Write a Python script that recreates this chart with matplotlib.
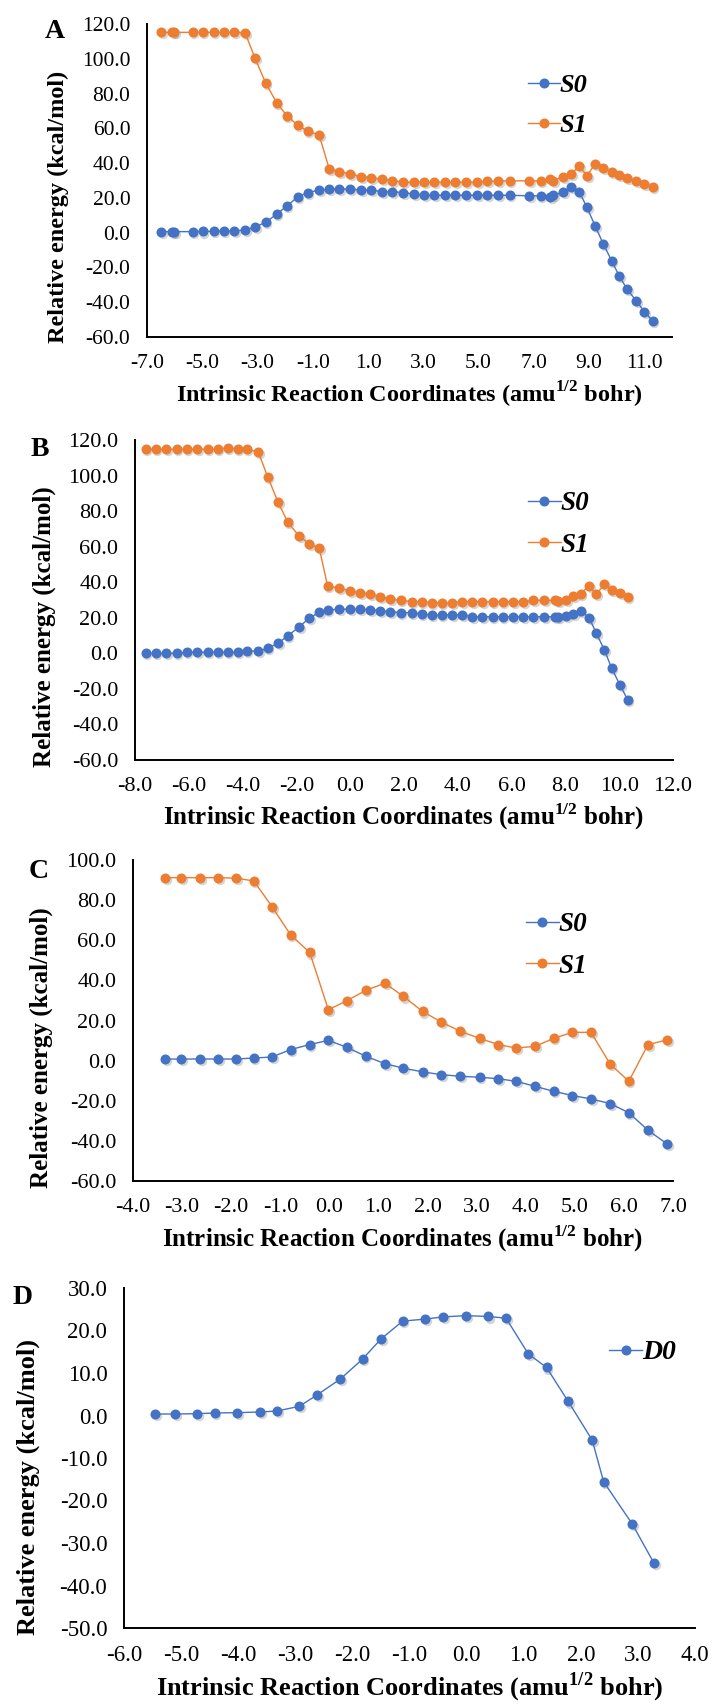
import matplotlib
matplotlib.use('Agg')
import matplotlib.pyplot as plt
import matplotlib.transforms as mtransforms
from matplotlib.ticker import FormatStrFormatter, MultipleLocator

plt.rcParams['font.family'] = ['Liberation Serif', 'DejaVu Serif']
plt.rcParams['axes.unicode_minus'] = False
plt.rcParams['mathtext.fontset'] = 'custom'
plt.rcParams['mathtext.bf'] = 'Liberation Serif:bold'
plt.rcParams['mathtext.rm'] = 'Liberation Serif:bold'

# ---------------- data ----------------
xA = [-6.49, -6.10, -6.02, -5.35, -4.98, -4.59, -4.22, -3.85, -3.45, -3.09, -2.70, -2.31, -1.94,
      -1.55, -1.19, -0.77, -0.40, -0.04, 0.35, 0.75, 1.11, 1.50, 1.88, 2.28, 2.67, 3.04, 3.40,
      3.79, 4.16, 4.55, 4.94, 5.32, 5.72, 6.12, 6.84, 7.25, 7.59, 7.71, 8.05, 8.35, 8.64, 8.92,
      9.22, 9.52, 9.82, 10.09, 10.38, 10.70, 11.00, 11.30]
A_S0 = [0.6, 0.6, 0.6, 0.6, 0.7, 0.8, 1.0, 1.0, 1.6, 3.3, 6.0, 10.6, 15.3, 20.5, 23.0, 24.5,
        25.1, 25.1, 25.1, 24.5, 24.5, 23.6, 23.6, 23.0, 22.2, 21.5, 21.5, 21.5, 21.5, 21.5, 21.5,
        21.5, 21.5, 21.5, 21.2, 21.2, 20.5, 21.7, 23.2, 26.1, 23.6, 14.6, 3.8, -6.7, -16.3, -24.9,
        -32.6, -39.1, -45.4, -50.8]
A_S1 = [115.2, 115.2, 115.2, 115.2, 115.2, 115.2, 115.2, 115.2, 115.0, 100.3, 85.9, 74.8, 67.3,
        61.9, 58.4, 56.2, 36.4, 35.1, 33.6, 32.2, 31.6, 30.7, 29.9, 29.0, 29.0, 29.0, 29.0, 29.0,
        29.0, 29.0, 29.0, 29.5, 29.7, 29.8, 29.8, 29.8, 30.9, 29.9, 32.2, 33.7, 38.3, 32.8, 39.5,
        37.0, 34.7, 33.2, 31.3, 29.9, 27.8, 26.1]

xB = [-7.60, -7.23, -6.85, -6.45, -6.08, -5.68, -5.30, -4.93, -4.55, -4.18, -3.85, -3.42, -3.07,
      -2.68, -2.32, -1.90, -1.53, -1.15, -0.84, -0.41, -0.01, 0.36, 0.74, 1.11, 1.48, 1.88, 2.29,
      2.66, 3.03, 3.40, 3.80, 4.17, 4.54, 4.91, 5.30, 5.67, 6.06, 6.44, 6.81, 7.20, 7.61, 7.74,
      8.02, 8.29, 8.57, 8.88, 9.14, 9.45, 9.72, 10.03, 10.32]
B_S0 = [0.0, 0.0, 0.0, 0.0, 0.6, 0.6, 0.6, 0.6, 0.6, 0.6, 1.3, 1.3, 2.8, 5.6, 9.9, 14.8, 19.7,
        23.1, 24.4, 24.8, 24.8, 24.8, 24.4, 24.0, 23.4, 22.9, 22.9, 22.1, 21.6, 21.6, 21.6, 21.6,
        20.6, 20.6, 20.6, 20.6, 20.6, 20.6, 20.6, 20.6, 20.6, 20.3, 21.0, 22.1, 24.0, 20.1, 11.6,
        1.9, -8.4, -17.8, -26.3]
B_S1 = [114.8, 114.8, 114.8, 114.8, 114.8, 114.8, 114.8, 114.8, 115.7, 114.8, 114.8, 113.4, 99.4,
        85.0, 73.7, 66.0, 61.7, 59.1, 37.9, 36.6, 35.1, 33.8, 33.2, 31.9, 30.4, 29.8, 29.1, 29.1,
        28.5, 28.5, 28.5, 29.1, 29.1, 29.1, 29.1, 29.1, 29.1, 29.1, 29.8, 29.8, 29.8, 29.5, 29.8,
        32.2, 33.6, 37.9, 33.2, 38.8, 35.4, 33.8, 31.7]

xC = [-3.35, -3.02, -2.63, -2.26, -1.90, -1.54, -1.17, -0.79, -0.40, -0.02, 0.36, 0.74, 1.13,
      1.51, 1.90, 2.28, 2.67, 3.06, 3.44, 3.80, 4.19, 4.57, 4.95, 5.33, 5.72, 6.10, 6.49, 6.88]
C_S0 = [0.8, 0.8, 0.8, 0.8, 0.8, 1.3, 1.8, 5.5, 8.0, 10.1, 6.6, 2.2, -1.5, -3.8, -5.6, -7.0,
        -7.8, -8.3, -9.0, -10.3, -12.8, -15.3, -17.4, -19.1, -21.4, -26.0, -34.7, -41.5]
C_S1 = [91.2, 91.2, 91.2, 91.2, 90.9, 89.6, 76.8, 62.7, 53.9, 25.4, 29.9, 35.0, 38.6, 32.0, 24.5,
        19.2, 14.6, 11.1, 8.0, 6.3, 7.1, 11.1, 14.1, 14.1, -1.7, -10.3, 8.0, 10.3]

xD = [-5.46, -5.10, -4.72, -4.41, -4.02, -3.62, -3.32, -2.93, -2.62, -2.21, -1.82, -1.50, -1.12,
      -0.72, -0.41, -0.01, 0.38, 0.69, 1.08, 1.40, 1.78, 2.20, 2.40, 2.90, 3.28]
D_D0 = [0.35, 0.35, 0.43, 0.59, 0.67, 0.82, 1.06, 2.16, 4.82, 8.59, 13.3, 18.0, 22.2, 22.7, 23.2,
        23.5, 23.3, 22.9, 14.5, 11.3, 3.3, -5.8, -15.6, -25.5, -34.7]

panel_letters = ['A', 'B', 'C', 'D']
xlabel_text = 'Intrinsic Reaction Coordinates (amu$^{\\mathbf{1/2}}$ bohr)'
ylabel_text = 'Relative energy (kcal/mol)'

BLUE = '#4472C4'
ORANGE = '#ED7D31'

W, H = 713, 1704
fig = plt.figure(figsize=(W / 100, H / 100), dpi=100)


def make_axes(l, r, t, b):
    return fig.add_axes([l / W, 1 - b / H, (r - l) / W, (b - t) / H])


def series(ax, x, y, color, label):
    sh = ax.transData + mtransforms.ScaledTranslation(1.2 / 72, -1.5 / 72, fig.dpi_scale_trans)
    ax.plot(x, y, 'o', ms=6.8, color='0.25', alpha=0.22, mec='none', transform=sh, zorder=2,
            clip_on=False)
    ax.plot(x, y, '-o', color=color, lw=1.0, ms=6.2, mec=color, label=label, zorder=3,
            clip_on=False)


def style(ax, xlim, xstep, xfirst, ylim, ystep, tsize, lsize, ylab_xy, xlab_y):
    ax.set_xlim(*xlim)
    ax.set_ylim(*ylim)
    ax.xaxis.set_major_locator(MultipleLocator(xstep, offset=xfirst % xstep))
    ax.yaxis.set_major_locator(MultipleLocator(ystep))
    ax.xaxis.set_major_formatter(FormatStrFormatter('%.1f'))
    ax.yaxis.set_major_formatter(FormatStrFormatter('%.1f'))
    for s in ['top', 'right']:
        ax.spines[s].set_visible(False)
    for s in ['left', 'bottom']:
        ax.spines[s].set_linewidth(1.4)
        ax.spines[s].set_color('black')
    ax.tick_params(axis='both', length=0, labelsize=tsize, colors='black')
    ax.tick_params(axis='x', pad=12)
    ax.tick_params(axis='y', pad=12)
    ax.set_xlabel(xlabel_text, fontsize=lsize, fontweight='bold')
    ax.set_ylabel(ylabel_text, fontsize=lsize, fontweight='bold')
    ax.xaxis.set_label_coords(0.5, xlab_y)
    ax.xaxis.label.set_va('center')
    ax.yaxis.set_label_coords(*ylab_xy)
    ax.yaxis.label.set_va('center')


def legend(ax, x_px, y_px, fs):
    ax.legend(loc='upper left', bbox_to_anchor=(x_px / W, 1 - y_px / H),
              bbox_transform=fig.transFigure, frameon=False, borderpad=0,
              borderaxespad=0, handlelength=1.2, handletextpad=0.0, labelspacing=0.62,
              prop={'family': 'Liberation Serif', 'weight': 'bold', 'style': 'italic',
                    'size': fs})


# Panel A
axA = make_axes(147, 672, 24, 337)
series(axA, xA, A_S0, BLUE, 'S0')
series(axA, xA, A_S1, ORANGE, 'S1')
style(axA, (-7, 12), 2, -7, (-60, 120), 20, 15.5, 17.5, (-0.168, 0.415), -0.185)
legend(axA, 528, 74, 19)

# Panel B
axB = make_axes(135, 673, 440, 760)
series(axB, xB, B_S0, BLUE, 'S0')
series(axB, xB, B_S1, ORANGE, 'S1')
style(axB, (-8, 12), 2, -8, (-60, 120), 20, 16, 18, (-0.169, 0.416), -0.178)
legend(axB, 528, 491, 19.5)

# Panel C
axC = make_axes(133, 673, 860, 1181)
series(axC, xC, C_S0, BLUE, 'S0')
series(axC, xC, C_S1, ORANGE, 'S1')
style(axC, (-4, 7), 1, -4, (-60, 100), 20, 16, 18, (-0.170, 0.414), -0.18)
legend(axC, 526, 912, 19.5)

# Panel D
axD = make_axes(124, 695, 1288, 1628)
series(axD, xD, D_D0, BLUE, 'D0')
style(axD, (-6, 4), 1, -6, (-50, 30), 10, 16.5, 19, (-0.167, 0.415), -0.173)
legend(axD, 609, 1340, 20)

# Panel letters
for letter, (px, py) in zip(panel_letters, [(55, 32), (40, 449), (39, 871), (23, 1298)]):
    fig.text(px / W, 1 - py / H, letter, ha='center', va='center', fontsize=20,
             fontweight='bold')

fig.savefig('out.png', dpi=100)
